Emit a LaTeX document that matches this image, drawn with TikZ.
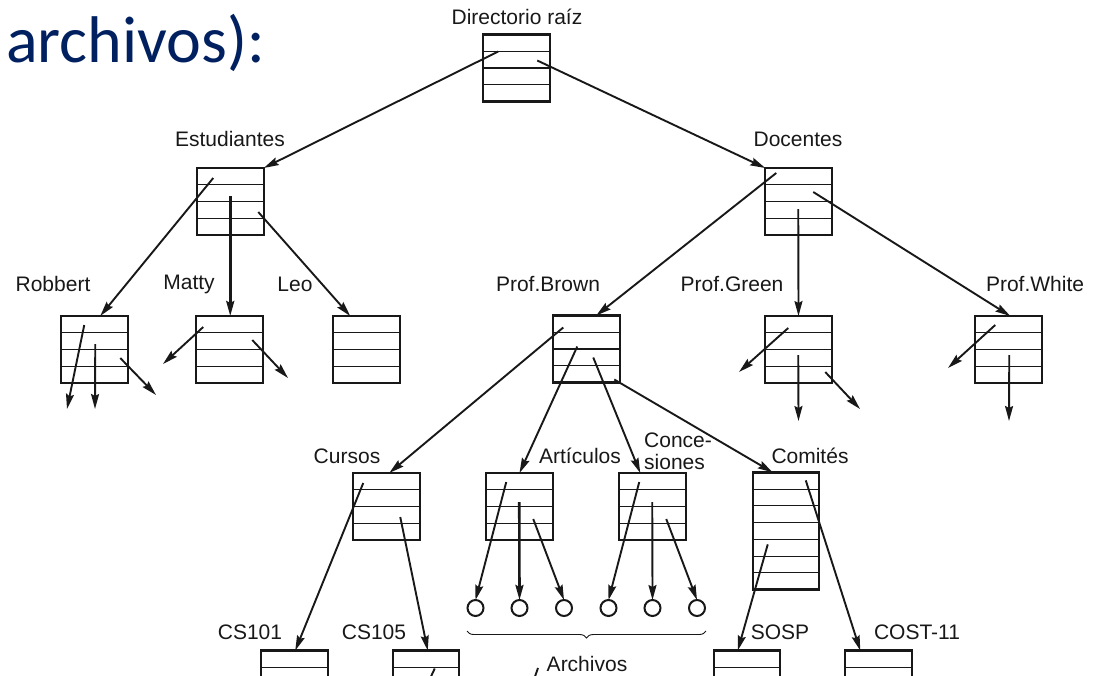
\documentclass[tikz,border=0pt]{standalone}
\usepackage{fontspec}
\setmainfont{Liberation Sans}
\newfontfamily\titlefont{Carlito}
\usetikzlibrary{calc,arrows.meta,decorations.pathreplacing}
\definecolor{navy}{RGB}{0,32,96}
\definecolor{ink}{RGB}{24,24,24}
\begin{document}
\begin{tikzpicture}[x=1pt,y=-1pt,
  dirbox/.style={draw=ink, line width=2.4pt, minimum width=66.5pt, minimum height=#1*16.75pt,
    inner sep=0pt, outer sep=0pt,
    path picture={
      \pgfmathtruncatemacro\lastk{#1-1}
      \foreach \k in {1,...,\lastk}{
        \draw[line width=1.2pt, ink]
          ($(path picture bounding box.north west)!\k/#1!(path picture bounding box.south west)$) --
          ($(path picture bounding box.north east)!\k/#1!(path picture bounding box.south east)$);}}},
  dirbox/.default=4,
  filecirc/.style={draw=ink, line width=2pt, circle, minimum size=16pt, inner sep=0pt, outer sep=0pt},
  lbl/.style={font=\fontsize{21}{23}\selectfont, text=ink, inner sep=0pt},
  arr/.style={draw=ink, line width=1.9pt, -{Stealth[length=15pt,width=8pt,inset=2pt]}},
  thickarr/.style={arr, line width=2.6pt},
  plainline/.style={draw=ink, line width=1.9pt}
]
\useasboundingbox (0,0) rectangle (1097,675);
\clip (0,0) rectangle (1097,675);

% title fragment
\node[anchor=base west, inner sep=0pt, text=navy, font=\titlefont\fontsize{66}{74}\selectfont] (title) at (6,62) {archivos):};

% directory boxes
\node[dirbox] (root) at (516.5,68) {};
\node[dirbox] (est) at (230.5,201.5) {};
\node[dirbox] (doc) at (798.5,201.5) {};
\node[dirbox] (rob) at (94.5,349.5) {};
\node[dirbox] (mat) at (229.5,349.5) {};
\node[dirbox] (leo) at (366.5,349.5) {};
\node[dirbox] (brown) at (586.5,349) {};
\node[dirbox] (green) at (798.5,349.5) {};
\node[dirbox] (white) at (1008.5,349.5) {};
\node[dirbox] (cur) at (386.5,506.5) {};
\node[dirbox] (art) at (519.5,506.5) {};
\node[dirbox] (con) at (652.5,506.5) {};
\node[dirbox=7] (com) at (786,531) {};
\node[dirbox] (cs101) at (294.5,684) {};
\node[dirbox] (cs105) at (426,684) {};
\node[dirbox] (sosp) at (747,684) {};
\node[dirbox] (cost) at (878.5,684) {};

% files
\node[filecirc] (f1) at (475.5,608) {};
\node[filecirc] (f2) at (519.5,608) {};
\node[filecirc] (f3) at (564,608) {};
\node[filecirc] (f4) at (608.5,608) {};
\node[filecirc] (f5) at (652.5,608) {};
\node[filecirc] (f6) at (697,608) {};

% labels
\node[lbl] (lroot) at (517,17) {Directorio raíz};
\node[lbl] (lest) at (230,139) {Estudiantes};
\node[lbl] (ldoc) at (798,139) {Docentes};
\node[lbl] (lrob) at (53,284) {Robbert};
\node[lbl] (lmat) at (189,284.5) {Matty};
\node[lbl] (lleo) at (295,284) {Leo};
\node[lbl] (lbrown) at (548,284) {Prof.Brown};
\node[lbl] (lgreen) at (732,284) {Prof.Green};
\node[lbl] (lwhite) at (1035,284) {Prof.White};
\node[lbl] (lcur) at (347,456) {Cursos};
\node[lbl] (lart) at (580,456) {Artículos};
\node[lbl, anchor=west, align=left, font=\fontsize{21}{22}\selectfont] (lcon) at (644,451) {Conce-\\siones};
\node[lbl] (lcom) at (810,456) {Comités};
\node[lbl] (lcs1) at (250,632) {CS101};
\node[lbl] (lcs5) at (374,632) {CS105};
\node[lbl] (lsosp) at (780,632) {SOSP};
\node[lbl] (lcost) at (917,632) {COST-11};
\node[lbl] (larch) at (587,664) {Archivos};

% brace over files
\coordinate (bl) at (467,631);
\coordinate (br) at (706,631);
\draw[ink, line width=0.9pt, decorate, decoration={brace, mirror, amplitude=7pt}] (bl) -- (br);

% root
\draw[arr] ($(root.north west)+(15,17)$) -- (est.north east);
\draw[arr] ($(root.north west)+(54,26)$) -- (doc.north west);

% Estudiantes
\draw[arr] ($(est.north west)+(16,10)$) -- ($(rob.north west)+(39,0)$);
\draw[thickarr] ($(est.north west)+(33,28)$) -- ($(mat.north west)+(34,0)$);
\draw[arr] ($(est.north west)+(61,44)$) -- ($(leo.north west)+(17,0)$);

% Robbert
\coordinate (rob1) at (67,409);
\coordinate (rob2) at (95,409);
\coordinate (rob3) at (156,395);
\draw[arr] ($(rob.north west)+(23,9)$) -- (rob1);
\draw[arr] ($(rob.north west)+(34,28)$) -- (rob2);
\draw[arr] ($(rob.north west)+(59,42)$) -- (rob3);

% Matty
\coordinate (mat1) at (163,364);
\coordinate (mat2) at (288,378);
\draw[arr] ($(mat.north west)+(7,11)$) -- (mat1);
\draw[arr] ($(mat.north west)+(56,24)$) -- (mat2);

% Docentes
\draw[arr] ($(doc.north west)+(11,5)$) -- ($(brown.north west)+(43,0)$);
\draw[arr] ($(doc.north west)+(33,41)$) -- (green.north);
\draw[arr] ($(doc.north west)+(48,24)$) -- ($(white.north west)+(35,0)$);

% Prof.Green
\coordinate (gr1) at (739,372);
\coordinate (gr2) at (798.5,421);
\coordinate (gr3) at (860,409);
\draw[arr] ($(green.north west)+(23,12)$) -- (gr1);
\draw[arr] ($(green.north west)+(33,39)$) -- (gr2);
\draw[arr] ($(green.north west)+(60,56)$) -- (gr3);

% Prof.White
\coordinate (wh1) at (948,368);
\coordinate (wh2) at (1009,421);
\draw[arr] ($(white.north west)+(20,9)$) -- (wh1);
\draw[arr] ($(white.north west)+(34,39)$) -- (wh2);

% Prof.Brown
\draw[arr] ($(brown.north west)+(10,12)$) -- ($(cur.north west)+(36,0)$);
\draw[arr] ($(brown.north west)+(24,31)$) -- (art.north);
\draw[arr] ($(brown.north west)+(40,42)$) -- ($(con.north west)+(21,0)$);
\draw[arr] ($(brown.north west)+(61,64)$) -- ($(com.north west)+(20,0)$);

% Cursos
\draw[arr] ($(cur.north west)+(10,10)$) -- ($(cs101.north west)+(34,0)$);
\draw[arr] ($(cur.north west)+(47,44)$) -- ($(cs105.north west)+(35,0)$);

% Articulos
\draw[arr] ($(art.north west)+(20,9)$) -- (f1.north);
\draw[thickarr] ($(art.north west)+(33,29)$) -- (f2.north);
\draw[arr] ($(art.north west)+(47,46)$) -- (f3.north);

% Concesiones
\draw[arr] ($(con.north west)+(20,9)$) -- (f4.north);
\draw[arr] ($(con.north west)+(33,29)$) -- (f5.north);
\draw[arr] ($(con.north west)+(47,46)$) -- (f6.north);

% Comites
\draw[arr] ($(com.north west)+(15,72)$) -- ($(sosp.north west)+(24,0)$);
\draw[arr] ($(com.north west)+(53,8)$) -- ($(cost.north west)+(15,0)$);

% cut-off connector ends at the bottom edge
\coordinate (cutA) at (427,685);
\coordinate (cutB) at (532,685);
\draw[plainline] ($(cs105.north west)+(42,18)$) -- (cutA);
\draw[plainline] (538,668) -- (cutB);
\end{tikzpicture}
\end{document}
